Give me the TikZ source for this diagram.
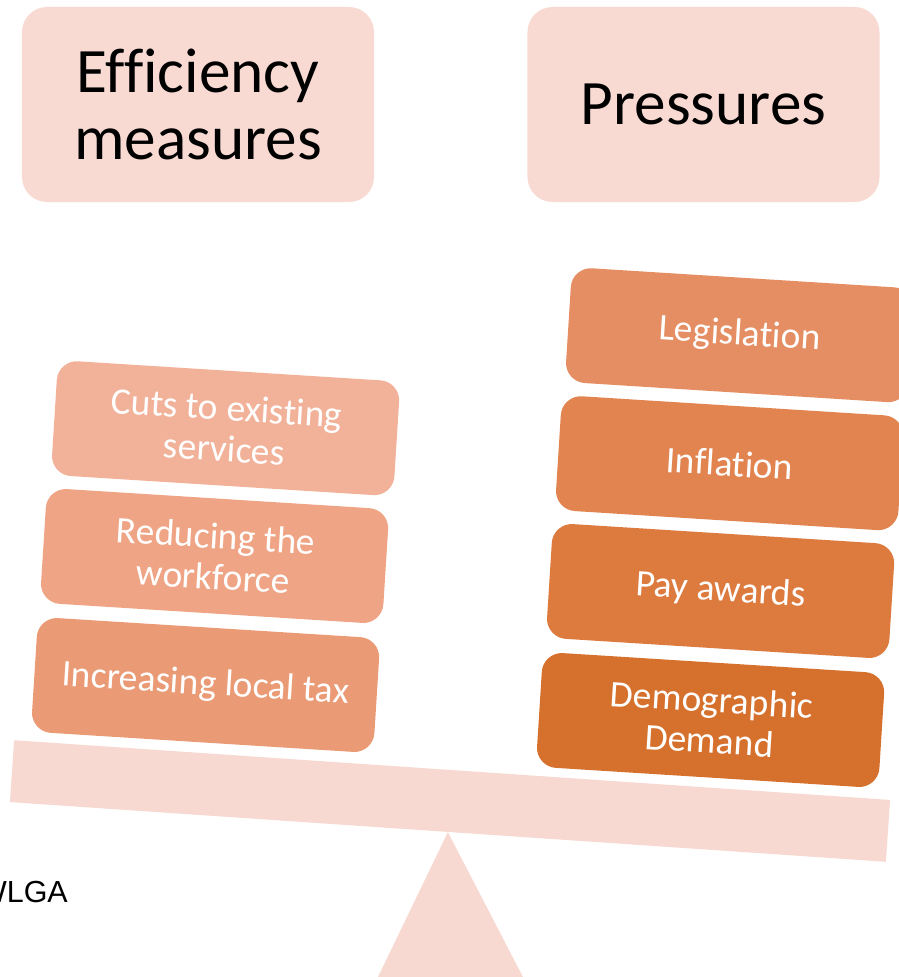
\documentclass[tikz,border=0pt]{standalone}
\usepackage{fontspec}
\setmainfont{Carlito}[Ligatures=NoCommon]
\newfontfamily\arialfont{Liberation Sans}
\usetikzlibrary{positioning}

\definecolor{headfill}{HTML}{F8DAD3}
\definecolor{beamfill}{HTML}{F7D9D1}
\definecolor{effA}{HTML}{F2B29A}
\definecolor{effB}{HTML}{EFA585}
\definecolor{effC}{HTML}{EA9A74}
\definecolor{presA}{HTML}{E58E63}
\definecolor{presB}{HTML}{E18450}
\definecolor{presC}{HTML}{DD7A3E}
\definecolor{presD}{HTML}{D6702D}

\begin{document}
\begin{tikzpicture}[x=0.03cm, y=-0.03cm,
    headbox/.style={fill=headfill, rounded corners=0.75cm, minimum width=10.56cm,
      minimum height=5.85cm, align=center, font=\fontsize{54}{57}\selectfont},
    itembox/.style={rounded corners=0.6cm, minimum width=10.29cm, minimum height=3.45cm,
      align=center, text=white, rotate=-3.6, font=\fontsize{32}{35}\selectfont}]
      \useasboundingbox[clip] (0,0) rectangle (899,977);

      \node[headbox] (eff) at (198,104.5) {Efficiency\\measures};
      \node[headbox] (press) at (703.5,104.5) {Pressures};

      \node[itembox, fill=effA] (cuts) at (225.6,428.2) {Cuts to existing\\services};
      \node[itembox, fill=effB] (staff) at (214.6,556) {Reducing the\\workforce};
      \node[itembox, fill=effC] (tax) at (205.6,685) {Increasing local tax};

      \node[itembox, fill=presA] (law) at (739.6,335.2) {Legislation};
      \node[itembox, fill=presB] (infl) at (729.6,463.2) {Inflation};
      \node[itembox, fill=presC] (pay) at (720.6,591) {Pay awards};
      \node[itembox, fill=presD] (demo) at (710.6,720) {Demographic\\Demand};

      % the scale
      \node[fill=beamfill, rotate=-3.9, minimum width=26.34cm, minimum height=1.86cm,
        inner sep=0pt] (beam) at (450,801) {};
      \fill[beamfill] (beam.south) -- (378,977) -- (523,977) -- cycle;

      \node[anchor=base east, inner sep=0pt, font=\arialfont\fontsize{26}{30}\selectfont]
        (src) at (68,902) {WLGA};
\end{tikzpicture}
\end{document}
